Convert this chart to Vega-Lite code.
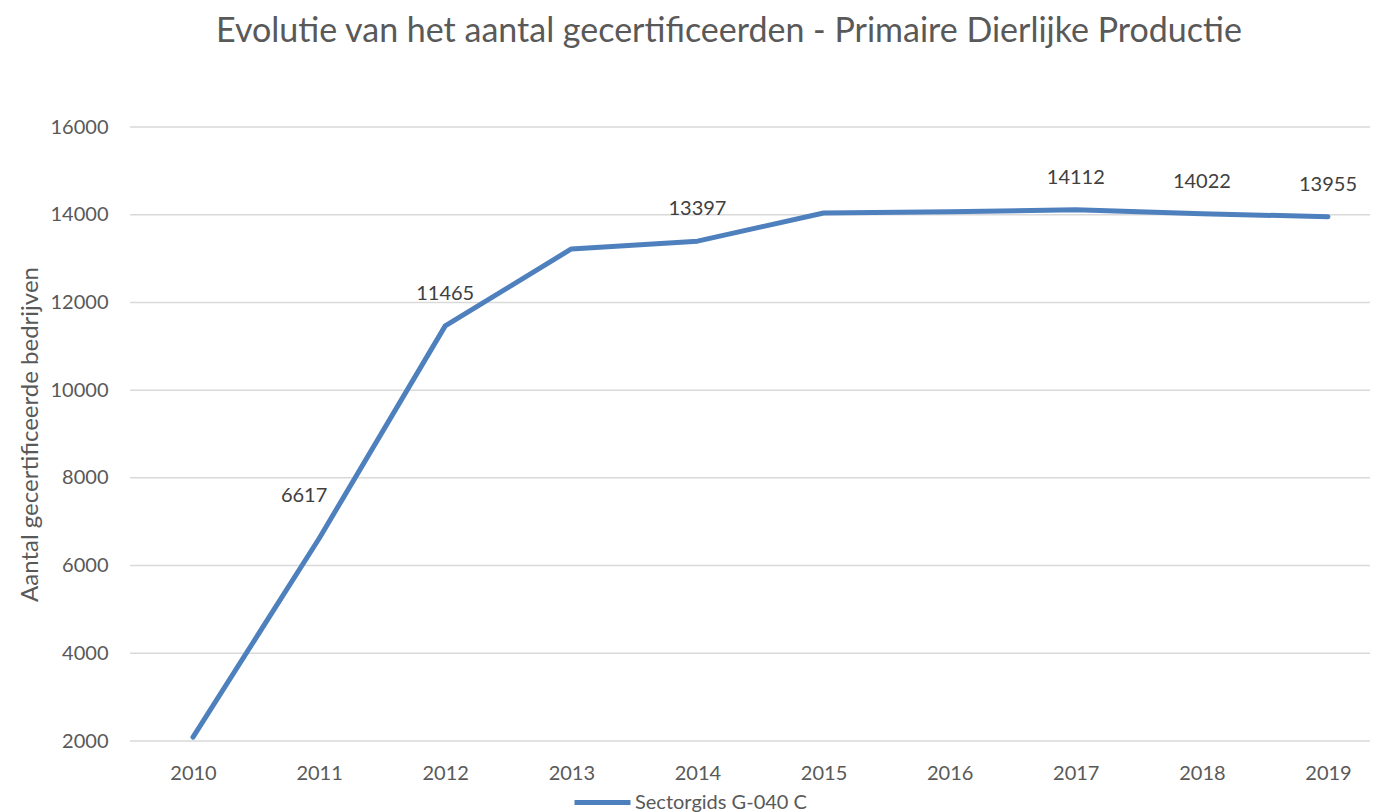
{
  "$schema": "https://vega.github.io/schema/vega-lite/v6.json",
  "autosize": "none",
  "width": 1240,
  "height": 614,
  "padding": {"left": 130, "top": 127, "right": 5, "bottom": 71},
  "background": "white",
  "config": {"font": "Lato", "view": {"stroke": null}},
  "title": {"text": "Evolutie van het aantal gecertificeerden - Primaire Dierlijke Productie", "fontSize": 34, "fontWeight": "normal", "color": "#595959", "anchor": "middle", "dx": -21, "offset": 68},
  "datasets": {
    "counts": [
      {"year": "2010", "count": 2090, "series": "Sectorgids G-040 C"},
      {"year": "2011", "count": 6617, "series": "Sectorgids G-040 C"},
      {"year": "2012", "count": 11465, "series": "Sectorgids G-040 C"},
      {"year": "2013", "count": 13220, "series": "Sectorgids G-040 C"},
      {"year": "2014", "count": 13397, "series": "Sectorgids G-040 C"},
      {"year": "2015", "count": 14040, "series": "Sectorgids G-040 C"},
      {"year": "2016", "count": 14065, "series": "Sectorgids G-040 C"},
      {"year": "2017", "count": 14112, "series": "Sectorgids G-040 C"},
      {"year": "2018", "count": 14022, "series": "Sectorgids G-040 C"},
      {"year": "2019", "count": 13955, "series": "Sectorgids G-040 C"}
    ],
    "grid": [
      {"g": 2000}, {"g": 4000}, {"g": 6000}, {"g": 8000}, {"g": 10000}, {"g": 12000}, {"g": 14000}, {"g": 16000}
    ]
  },
  "data": {"name": "counts"},
  "layer": [
    {"data": {"name": "grid"},
     "mark": {"type": "rule", "color": "#d9d9d9", "strokeWidth": 1.5},
     "encoding": {"y": {"field": "g", "type": "quantitative", "scale": {"domain": [2000, 16000], "nice": false, "zero": false},
       "axis": {"title": "Aantal gecertificeerde bedrijven", "titleFontSize": 24, "titleFontWeight": "normal", "titleColor": "#595959", "titlePadding": 8,
        "values": [2000, 4000, 6000, 8000, 10000, 12000, 14000, 16000], "format": "d", "domain": false, "ticks": false, "grid": false,
        "labelFontSize": 20, "labelColor": "#595959", "labelPadding": 22}}}},
    {"mark": {"type": "line", "strokeWidth": 5, "strokeCap": "round", "strokeJoin": "round"},
     "encoding": {
       "x": {"field": "year", "type": "ordinal", "scale": {"type": "point", "range": [63, 1198], "padding": 0},
         "axis": {"title": null, "labelAngle": 0, "domain": false, "ticks": false, "grid": false, "labelFontSize": 20, "labelColor": "#595959", "labelPadding": 22}},
       "y": {"field": "count", "type": "quantitative"},
       "color": {"field": "series", "type": "nominal", "scale": {"range": ["#4e80bd"]},
       "legend": {"title": null, "orient": "none", "legendX": 442, "legendY": 645, "symbolType": "stroke", "symbolSize": 3136, "symbolStrokeWidth": 5, "labelFontSize": 20, "labelColor": "#595959", "labelOffset": 2, "labelLimit": 400}}}},
    {"transform": [{"filter": {"field": "year", "oneOf": ["2012", "2014", "2017", "2018", "2019"]}}],
     "mark": {"type": "text", "fontSize": 20, "color": "#404040", "dy": -32},
     "encoding": {"x": {"field": "year", "type": "ordinal"}, "y": {"field": "count", "type": "quantitative"}, "text": {"field": "count", "type": "quantitative", "format": "d"}}},
    {"transform": [{"filter": {"field": "year", "oneOf": ["2011"]}}],
     "mark": {"type": "text", "fontSize": 20, "color": "#404040", "dx": -15, "dy": -43},
     "encoding": {"x": {"field": "year", "type": "ordinal"}, "y": {"field": "count", "type": "quantitative"}, "text": {"field": "count", "type": "quantitative", "format": "d"}}}
  ]
}
